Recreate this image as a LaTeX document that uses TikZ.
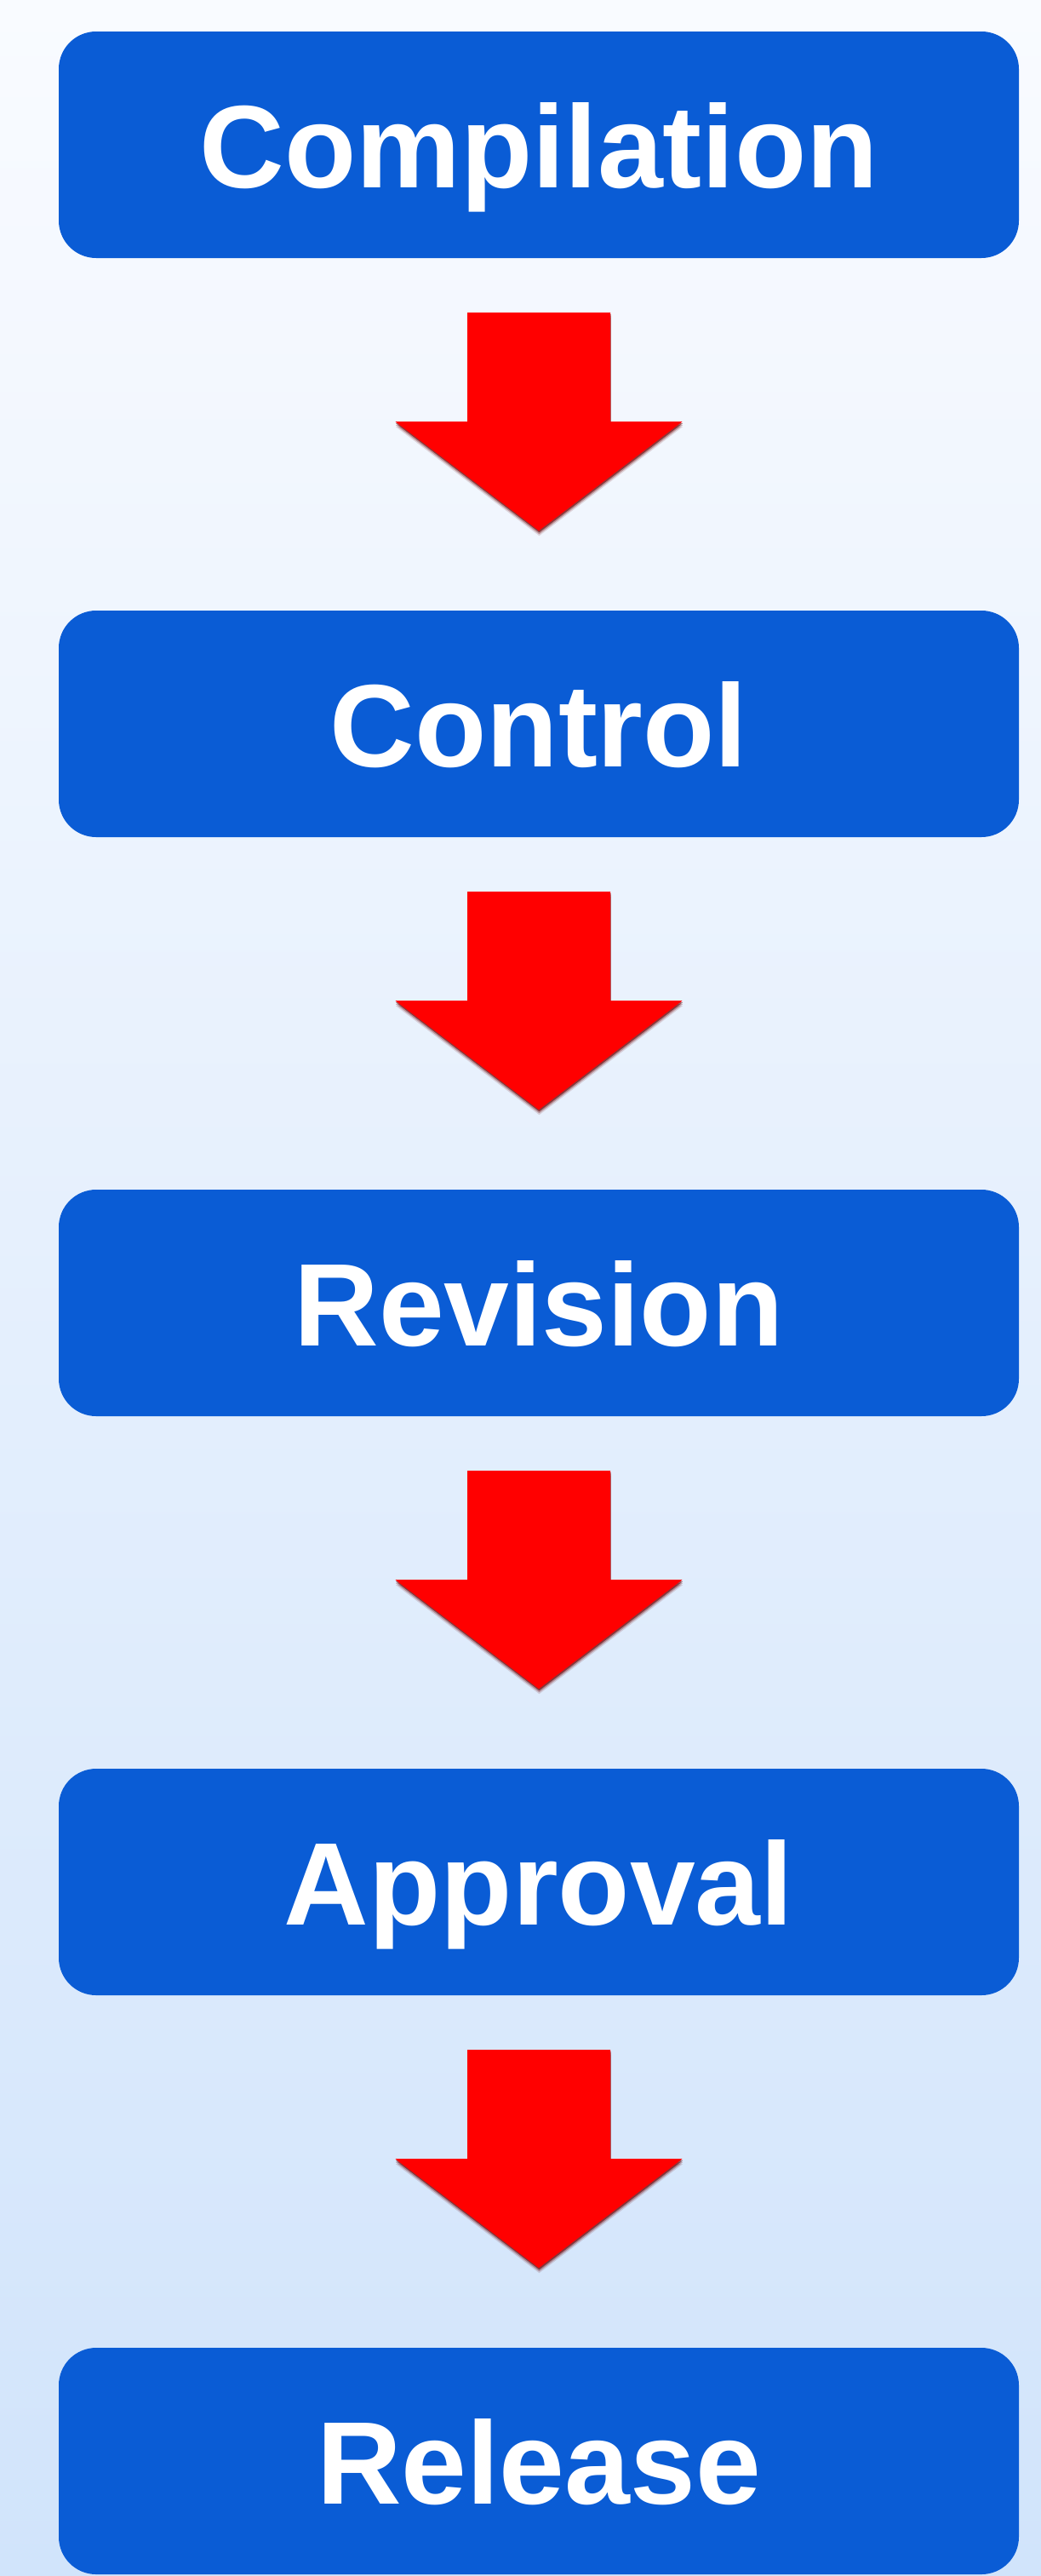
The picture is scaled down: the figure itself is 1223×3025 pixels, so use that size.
\documentclass[tikz,border=0pt]{standalone}
\usepackage{fontspec}
\setmainfont{Liberation Sans}
\usetikzlibrary{calc}
\definecolor{bgtop}{HTML}{F9FBFF}
\definecolor{bgbot}{HTML}{D1E4FB}
\definecolor{boxblue}{HTML}{0A5CD5}
\definecolor{arrred}{HTML}{FF0000}
\definecolor{arrshadow}{HTML}{6A0000}
\tikzset{
  stepbox/.style={rectangle, rounded corners=44pt, fill=boxblue, draw=none,
    minimum width=1128pt, minimum height=266pt, inner sep=0pt,
    text height=100pt, text depth=0pt,
    text=white, font=\fontsize{138}{166}\selectfont\bfseries},
  arrowfill/.style={fill=arrred},
  arrowshade/.style={fill=arrshadow},
}
\newcommand{\blockarrowpath}{(-84,64) -- (84,64) -- (84,192) -- (168.5,192) -- (0,320) -- (-168.5,192) -- (-84,192) -- cycle}
\begin{document}
\begin{tikzpicture}[x=1pt, y=-1pt]
  \shade[top color=bgtop, bottom color=bgbot] (0,0) rectangle (1223,3025);
  \useasboundingbox (0,0) rectangle (1223,3025);
  \node[stepbox] (a) at (633,170) {Compilation};
  \node[stepbox] (b) at (633,850) {Control};
  \node[stepbox] (c) at (633,1530) {Revision};
  \node[stepbox] (d) at (633,2210) {Approval};
  \node[stepbox] (e) at (633,2890) {Release};
  \foreach \s in {a,b,c,d} {
    \begin{scope}[shift={(\s.south)}]
      \begin{scope}[shift={(0.5,6)}]
        \fill[arrowshade, opacity=0.15] \blockarrowpath;
      \end{scope}
      \begin{scope}[shift={(0.5,4)}]
        \fill[arrowshade, opacity=0.3] \blockarrowpath;
      \end{scope}
      \begin{scope}[shift={(0.5,2)}]
        \fill[arrowshade, opacity=0.6] \blockarrowpath;
      \end{scope}
      \fill[arrowfill] \blockarrowpath;
    \end{scope}
  }
\end{tikzpicture}
\end{document}
